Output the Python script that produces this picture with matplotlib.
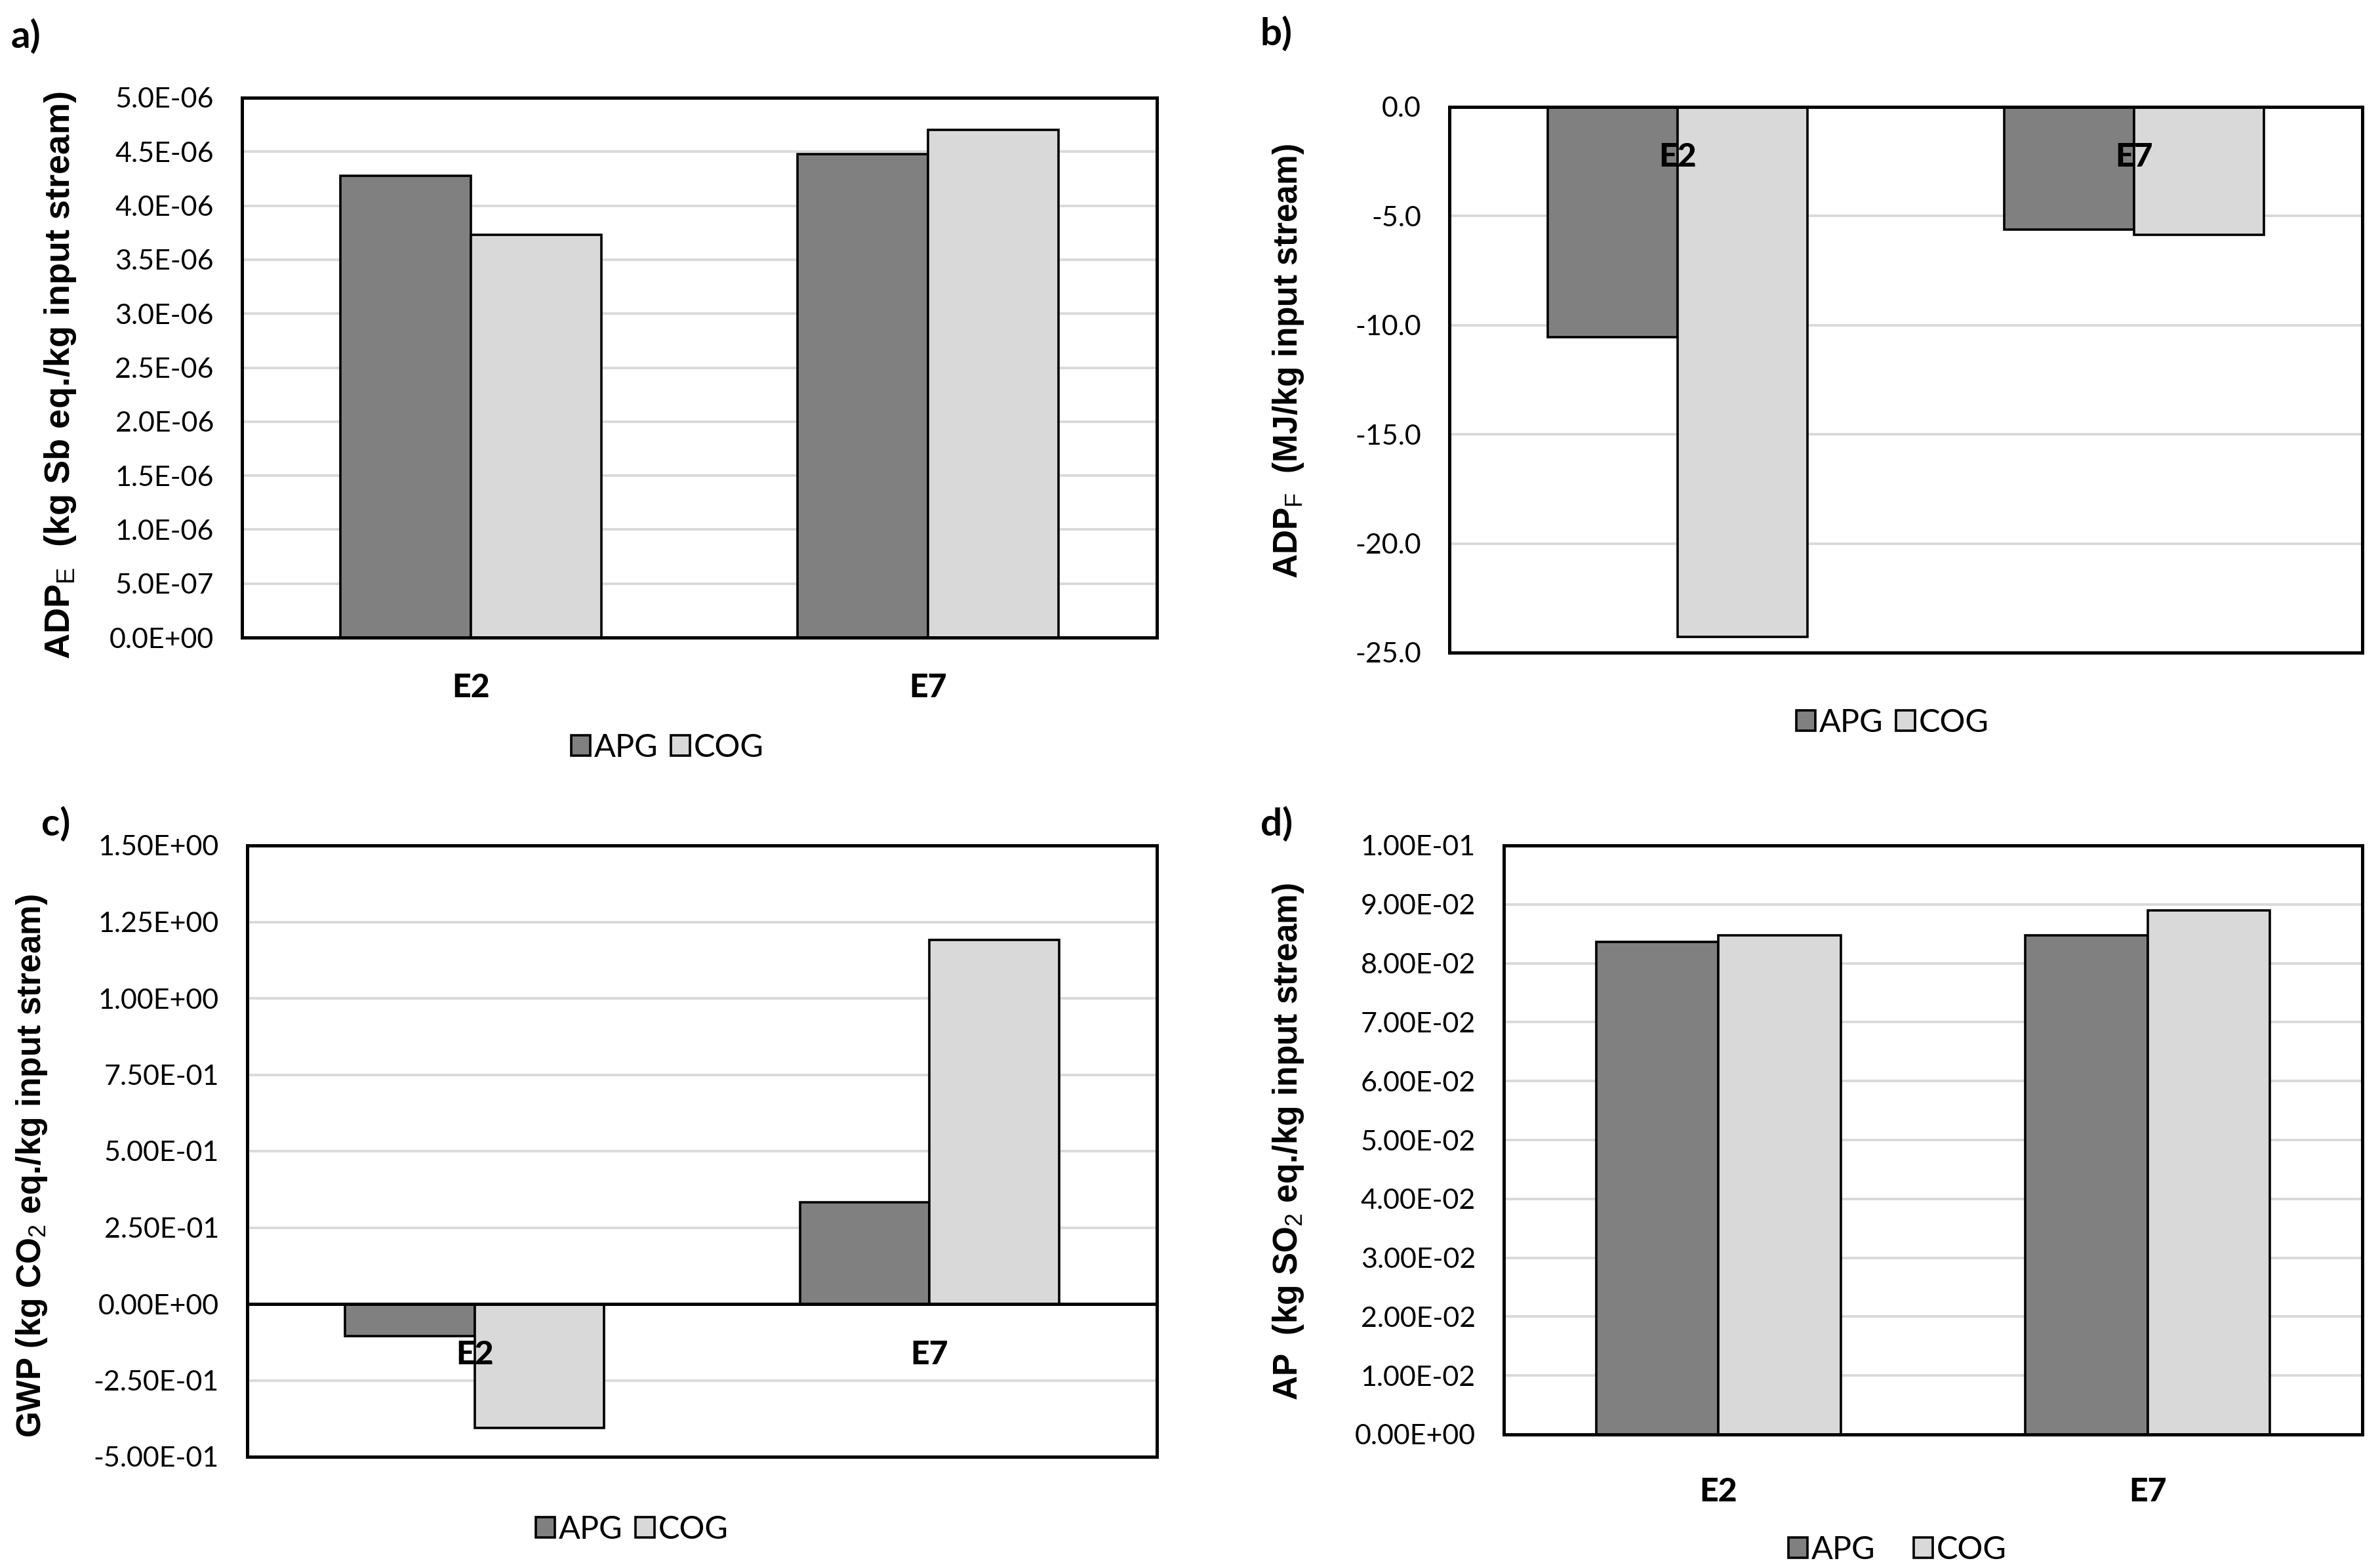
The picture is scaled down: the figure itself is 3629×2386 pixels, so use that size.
import numpy as np
import matplotlib
matplotlib.use("Agg")
import matplotlib.pyplot as plt
from matplotlib.ticker import FuncFormatter

plt.rcParams['font.family'] = ['Lato', 'DejaVu Sans']
plt.rcParams['mathtext.fontset'] = 'custom'
plt.rcParams['mathtext.rm'] = 'Liberation Sans'
plt.rcParams['mathtext.it'] = 'Liberation Sans:italic'
plt.rcParams['mathtext.bf'] = 'Liberation Sans:bold'

W, H = 3630, 2386
DPI = 100

categories = ["E2", "E7"]
series = ["APG", "COG"]
colors = ["#808080", "#d9d9d9"]

# values
adp_e_apg = [4.28e-6, 4.48e-6]
adp_e_cog = [3.73e-6, 4.70e-6]
adp_f_apg = [-10.55, -5.62]
adp_f_cog = [-24.27, -5.85]
gwp_apg = [-0.105, 0.332]
gwp_cog = [-0.405, 1.19]
ap_apg = [0.0836, 0.0847]
ap_cog = [0.0847, 0.0890]

fig = plt.figure(figsize=(W / DPI, H / DPI), dpi=DPI)


def px_axes(l, t, r, b):
    return fig.add_axes([l / W, 1 - b / H, (r - l) / W, (b - t) / H])


def draw_panel(ax, apg, cog, ylim, step, fmt, ylabel, ylab_xy, letter, letter_xy,
               leg_xy, lab_base, lab_off, zero_line=False, colsp=0.4, ylab_size=37):
    x = np.arange(len(categories))
    w = 0.285
    ax.bar(x - w / 2, apg, w, color=colors[0], edgecolor='black', linewidth=2.6,
           label=series[0], zorder=3)
    ax.bar(x + w / 2, cog, w, color=colors[1], edgecolor='black', linewidth=2.6,
           label=series[1], zorder=3)
    ax.set_xlim(-0.5, 1.5)
    ax.set_ylim(*ylim)
    ticks = np.arange(ylim[0], ylim[1] + step / 2, step)
    ax.set_yticks(ticks)
    ax.yaxis.set_major_formatter(FuncFormatter(lambda v, p: fmt.format(v + 0.0)))
    ax.set_xticks([])
    ax.tick_params(axis='y', length=0, pad=31, labelsize=31)
    ax.grid(axis='y', color='#d9d9d9', linewidth=2.8, zorder=0)
    ax.set_axisbelow(True)
    for s in ax.spines.values():
        s.set_linewidth(3.6)
        s.set_color('black')
        s.set_zorder(5)
    if zero_line:
        ax.axhline(0, color='black', linewidth=3.6, zorder=4)
    for i, c in enumerate(categories):
        ax.annotate(c, xy=(i, lab_base), xycoords='data', xytext=(0, -lab_off),
                    textcoords='offset points', ha='center', va='center',
                    fontsize=36, fontweight='black', zorder=6, annotation_clip=False)
    fig.text(ylab_xy[0] / W, 1 - ylab_xy[1] / H, ylabel, rotation=90,
             ha='center', va='center', fontsize=ylab_size, fontweight='bold',
             family='Liberation Sans')
    fig.text(letter_xy[0] / W, 1 - letter_xy[1] / H, letter, ha='left', va='center',
             fontsize=42, fontweight='bold')
    fig.legend(handles=ax.containers, labels=series, loc='center',
               bbox_to_anchor=(leg_xy[0] / W, 1 - leg_xy[1] / H),
               bbox_transform=fig.transFigure, ncol=2, frameon=False,
               fontsize=35, handlelength=0.6, handleheight=0.6,
               handletextpad=0.12, columnspacing=colsp)


ax_a = px_axes(369, 149, 1764, 972)
draw_panel(ax_a, adp_e_apg, adp_e_cog, (0, 5e-6), 0.5e-6, "{:.1E}",
           r"ADP$_{\mathrm{E}}$  (kg Sb eq./kg input stream)", (92, 572),
           "a)", (17, 56), (1018, 1140), 0, 55, ylab_size=39)

ax_b = px_axes(2210, 163, 3602, 995)
draw_panel(ax_b, adp_f_apg, adp_f_cog, (-25, 0), 5, "{:.1f}",
           r"ADP$_{\mathrm{F}}$  (MJ/kg input stream)", (1965, 551),
           "b)", (1922, 52), (2886, 1102), 0, 55)

ax_c = px_axes(377, 1289, 1764, 2221)
draw_panel(ax_c, gwp_apg, gwp_cog, (-0.5, 1.5), 0.25, "{:.2E}",
           r"GWP (kg CO$_{\mathrm{2}}$ eq./kg input stream)", (49, 1777),
           "c)", (63, 1257), (964, 2332), 0, 56, zero_line=True)

ax_d = px_axes(2293, 1289, 3602, 2187)
draw_panel(ax_d, ap_apg, ap_cog, (0, 0.1), 0.01, "{:.2E}",
           r"AP  (kg SO$_{\mathrm{2}}$ eq./kg input stream)", (1965, 1740),
           "d)", (1922, 1257), (2893, 2363), 0, 63, colsp=1.2)

fig.savefig("out.png", dpi=DPI, facecolor='white')
